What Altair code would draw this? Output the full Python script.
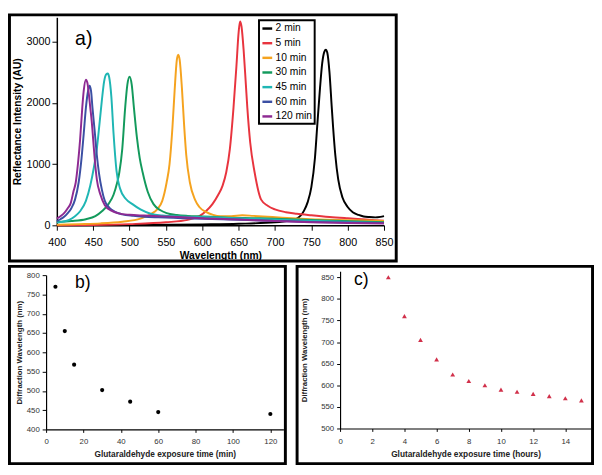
import altair as alt
import pandas as pd

# ---------------- data: panel a (reflectance spectra) ----------------
series_names = ["2 min", "5 min", "10 min", "30 min", "45 min", "60 min", "120 min"]
series_colors = ["#000000", "#e8343e", "#f5a31f", "#139a5c", "#1fb6b4", "#3b4fa3", "#8e2a92"]

wl_2min = [400, 500, 600, 650, 700, 720, 730, 740, 745, 750, 755, 758, 762, 765, 768, 770, 772, 775,
           778, 780, 783, 787, 793, 800, 807, 815, 822, 830, 838, 845, 850]
ri_2min = [0, 5, 15, 25, 50, 80, 110, 240, 380, 620, 1100, 1600, 2250, 2650, 2840, 2870, 2820, 2500,
           1950, 1600, 1150, 750, 450, 300, 215, 170, 145, 135, 130, 138, 150]

wl_5min = [400, 450, 500, 550, 580, 596, 605, 614, 622, 628, 633, 638, 643, 647, 650, 652, 654, 657,
           660, 662, 666, 672, 681, 690, 700, 715, 730, 750, 775, 800, 825, 850]
ri_5min = [0, 5, 20, 50, 90, 150, 230, 347, 500, 650, 868, 1250, 1924, 2600, 3150, 3330, 3250, 2850,
           2300, 1924, 1350, 868, 420, 320, 260, 215, 190, 165, 137, 115, 95, 75]

wl_10min = [400, 430, 460, 490, 515, 530, 538, 545, 551, 555, 559, 562, 565, 567, 569, 572, 575, 578,
            583, 590, 596, 605, 615, 625, 640, 655, 670, 690, 710, 730, 760, 800, 850]
ri_10min = [10, 20, 32, 60, 110, 190, 260, 400, 700, 1000, 1600, 2200, 2700, 2790, 2700, 2250, 1650, 1150,
            700, 420, 300, 220, 170, 150, 150, 165, 155, 140, 125, 112, 95, 85, 72]

wl_30min = [400, 420, 440, 453, 462, 471, 478, 483, 486, 490, 494, 497, 500, 503, 506, 510, 514, 518,
            525, 533, 542, 551, 565, 580, 600, 630, 680, 730, 780, 850]
ri_30min = [55, 70, 100, 150, 230, 347, 500, 700, 868, 1250, 1924, 2300, 2430, 2300, 1924, 1450, 1100, 868,
            550, 347, 250, 200, 170, 155, 145, 130, 115, 95, 75, 50]

wl_45min = [400, 408, 417, 425, 432, 440, 446, 451, 455, 459, 462, 465, 468, 470, 472, 475, 478, 482,
            487, 495, 504, 515, 529, 545, 570, 600, 650, 700, 750, 800, 850]
ri_45min = [45, 60, 90, 150, 230, 400, 650, 950, 1250, 1700, 2050, 2350, 2470, 2480, 2420, 2100, 1500, 900,
            600, 430, 347, 260, 190, 160, 145, 135, 115, 95, 75, 55, 40]

wl_60min = [400, 405, 410, 415, 420, 425, 430, 434, 437, 440, 443, 445, 447, 449, 452, 455, 458, 462,
            466, 472, 480, 490, 505, 520, 540, 560, 580, 600, 650, 700, 750, 800, 850]
ri_60min = [70, 100, 140, 200, 280, 420, 700, 1100, 1500, 1924, 2200, 2280, 2200, 1924, 1550, 1150, 850, 580,
            400, 290, 220, 180, 155, 140, 130, 122, 115, 108, 90, 72, 55, 45, 38]

wl_120min = [400, 405, 410, 415, 419, 423, 426, 429, 432, 435, 437, 440, 442, 444, 446, 448, 450, 452,
             455, 460, 466, 475, 485, 500, 520, 540, 560, 580, 600, 650, 700, 750, 800, 850]
ri_120min = [110, 150, 200, 280, 360, 560, 700, 1000, 1400, 1924, 2200, 2380, 2330, 2150, 1924, 1700, 1400, 1100,
             750, 500, 330, 240, 195, 172, 160, 150, 140, 128, 115, 95, 70, 50, 38, 30]

a_x_ticks = [400, 450, 500, 550, 600, 650, 700, 750, 800, 850]
a_y_ticks = [0, 1000, 2000, 3000]

# ---------------- data: panel b ----------------
b_time_min = [5, 10, 15, 30, 45, 60, 120]
b_wavelength = [770, 655, 568, 502, 472, 445, 440]
b_x_ticks = [0, 20, 40, 60, 80, 100, 120]
b_y_ticks = [400, 450, 500, 550, 600, 650, 700, 750, 800]

# ---------------- data: panel c ----------------
c_time_h = [3, 4, 5, 6, 7, 8, 9, 10, 11, 12, 13, 14, 15]
c_wavelength = [850, 760, 705, 660, 625, 610, 600, 590, 585, 580, 575, 570, 565]
c_x_ticks = [0, 2, 4, 6, 8, 10, 12, 14]
c_y_ticks = [500, 550, 600, 650, 700, 750, 800, 850]

# ---------------- build tables ----------------
xs = [wl_2min, wl_5min, wl_10min, wl_30min, wl_45min, wl_60min, wl_120min]
ys = [ri_2min, ri_5min, ri_10min, ri_30min, ri_45min, ri_60min, ri_120min]
rows = []
for name, xv, yv in zip(series_names, xs, ys):
    for a, b in zip(xv, yv):
        rows.append({"series": name, "wavelength": a, "intensity": b})
spec_df = pd.DataFrame(rows)
b_df = pd.DataFrame({"time": b_time_min, "wl": b_wavelength})
c_df = pd.DataFrame({"time": c_time_h, "wl": c_wavelength})
one = pd.DataFrame({"k": [0]})

FONT = "Liberation Sans"
A_W, A_H = 335, 213
B_W, B_H = 232, 162      # b plot origin aligned with a's; its y axis sits 11px left of origin
C_W, C_H = 257, 161


def frame(x1, x2, y1, y2):
    return alt.Chart(one).mark_rect(fill="white", fillOpacity=0, stroke="black", strokeWidth=3).encode(
        x=alt.value(x1), x2=alt.value(x2), y=alt.value(y1), y2=alt.value(y2))


def label(txt, x, y, size):
    return alt.Chart(one).mark_text(text=txt, align="left", baseline="middle", fontSize=size,
                                    font=FONT, color="black").encode(x=alt.value(x), y=alt.value(y))


small_axis = dict(labelFont=FONT, labelFontSize=8, labelColor="#333333", tickColor="black",
                  domainColor="black", domainWidth=1.2, labelFlush=False, labelOverlap=False,
                  titleFont=FONT, titleFontWeight="bold", titleColor="#222222")

# ---------------- panel a ----------------
lines = alt.Chart(spec_df).mark_line(strokeWidth=2, interpolate="monotone").encode(
    x=alt.X("wavelength:Q", scale=alt.Scale(domain=[400, 850], nice=False, zero=False),
            axis=alt.Axis(values=a_x_ticks, title="Wavelength (nm)", labelFont=FONT, labelFontSize=11,
                          labelColor="black", tickSize=5, labelPadding=7, tickColor="black",
                          domainColor="black", domainWidth=1.5, labelFlush=False, labelOverlap=False,
                          titleFont=FONT, titleFontSize=10.5, titleFontWeight="bold", titleColor="black",
                          titleBaseline="alphabetic", titleY=34)),
    y=alt.Y("intensity:Q", scale=alt.Scale(domain=[0, 3400], nice=False),
            axis=alt.Axis(values=a_y_ticks, format="d", title="Reflectance Intensity (AU)", labelFont=FONT,
                          labelFontSize=11, labelColor="black", tickSize=5, labelPadding=2,
                          tickColor="black", domainColor="black", domainWidth=1.5, labelFlush=False,
                          labelOverlap=False, titleFont=FONT, titleFontSize=10.5, titleFontWeight="bold",
                          titleColor="black", titleBaseline="middle", titleX=-40)),
    color=alt.Color("series:N", scale=alt.Scale(domain=series_names, range=series_colors),
                    legend=alt.Legend(title=None, orient="none", legendX=207, legendY=3,
                                      symbolType="stroke", symbolSize=100, symbolStrokeWidth=2.5,
                                      labelFont=FONT, labelFontSize=10.5, labelColor="black",
                                      labelOffset=2, rowPadding=3, padding=2, strokeColor="black",
                                      fillColor="white")),
)
panel_a = alt.layer(
    frame(-48.5, A_W + 12.5, -2.5, A_H + 36.5),
    lines,
    label("a)", 18.7, 22, 20),
).properties(width=A_W, height=A_H)

# ---------------- panel b ----------------
b_pts = alt.Chart(b_df).mark_circle(size=18, color="black", opacity=1).encode(
    x=alt.X("time:Q", scale=alt.Scale(domain=[0, 127], nice=False, range=[-11, B_W]),
            axis=alt.Axis(values=b_x_ticks, title="Glutaraldehyde exposure time (min)", tickSize=3,
                          labelPadding=5.5, titleFontSize=8.5, titleBaseline="alphabetic", titleY=27.5,
                          **small_axis)),
    y=alt.Y("wl:Q", scale=alt.Scale(domain=[400, 800], nice=False, zero=False, range=[B_H, 4]),
            axis=alt.Axis(values=b_y_ticks, title="Diffraction Wavelength (nm)", offset=11, tickSize=4,
                          labelPadding=3, titleFontSize=8, titleBaseline="middle", titleX=-27,
                          **small_axis)),
)
panel_b = alt.layer(
    frame(-48.5, B_W + 2, -5, B_H + 35),
    b_pts,
    label("b)", 18.7, 12.5, 18),
).properties(width=B_W, height=B_H)

# ---------------- panel c ----------------
c_pts = alt.Chart(c_df).mark_point(shape="triangle-up", filled=True, size=24, color="#d1304a", opacity=1).encode(
    x=alt.X("time:Q", scale=alt.Scale(domain=[0, 15.6], nice=False),
            axis=alt.Axis(values=c_x_ticks, title="Glutaraldehyde exposure time (hours)", tickSize=3,
                          labelPadding=6, titleFontSize=8.5, titleBaseline="alphabetic", titleY=28.5,
                          **small_axis)),
    y=alt.Y("wl:Q", scale=alt.Scale(domain=[500, 864], nice=False, zero=False),
            axis=alt.Axis(values=c_y_ticks, title="Diffraction Wavelength (nm)", tickSize=3.5,
                          labelPadding=3, titleFontSize=8, titleBaseline="middle", titleX=-36,
                          **small_axis)),
)
panel_c = alt.layer(
    frame(-44, C_W + 1.5, -5, C_H + 36),
    c_pts,
    label("c)", 14.3, 9.5, 18),
).properties(width=C_W, height=C_H)

chart = alt.vconcat(
    panel_a,
    alt.hconcat(panel_b, panel_c, spacing=1),
    spacing=2,
).properties(padding=0).configure_view(stroke=None).configure_axis(grid=False).configure_legend(strokeWidth=2)

chart.save("out.html", embed_options={"renderer": "svg", "actions": False})
